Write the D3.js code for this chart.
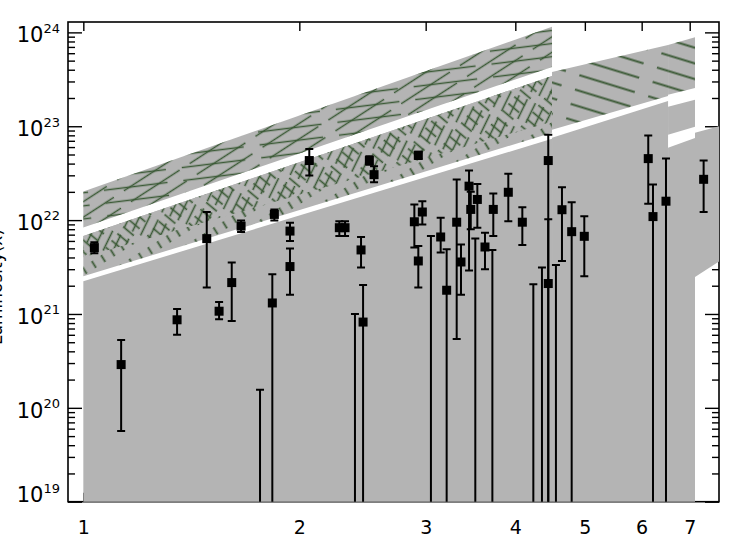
<!DOCTYPE html>
<html><head><meta charset="utf-8">
<script src="https://cdn.jsdelivr.net/npm/d3@7"></script>
<style>body{margin:0;background:#fff;}svg{display:block;}</style>
</head><body>
<svg id="chart" width="740" height="545"></svg>
<script>
// ---------- data ----------
const xTickValues = [1, 2, 3, 4, 5, 6, 7];
const yMajorTicks = [1e19, 1e20, 1e21, 1e22, 1e23, 1e24];
const yTitle = "Luminosity(x)";

// shaded bands: x positions, lower and upper edges
const bandAX = [1, 4.5],   bandALo = [8.36e21, 4.29e23], bandAHi = [2.02e22, 1.15e24];
const bandBX = [1, 4.5],   bandBLo = [2.52e21, 8.53e22], bandBHi = [6.76e21, 3.44e23];
const bandBMid = [4.02e21, 1.12e23];
const bandC1X = [4.5, 6.53], bandC1Lo = [9.2e22, 2.1e23], bandC1Hi = [3.79e23, 7.33e23];
const bandC2X = [6.53, 7.12], bandC2Lo = [2.16e23, 2.56e23], bandC2Hi = [7.33e23, 8.9e23];
const lowL1X = [1, 4.5],    lowL1Hi = [2.23e21, 7.36e22];
const lowL2X = [4.5, 6.53], lowL2Hi = [7.55e22, 1.86e23];
const lowL2bX = [6.53, 7.12], lowL2bLo = [8.13e22, 9.9e22], lowL2bHi = [1.61e23, 1.91e23];
const lowL3X = [6.53, 7.12], lowL3Hi = [5.9e22, 7.5e22];
const lowL4X = [7.12, 7.8],  lowL4Lo = [2.47e21, 3.9e21], lowL4Hi = [8.5e22, 1.03e23];
const floorValue = 1e18;

// measurements
const ptX  = [1.036, 1.129, 1.351, 1.486, 1.546, 1.61, 1.659, 1.763, 1.834, 1.846,
              1.941, 1.941, 2.065, 2.274, 2.316, 2.391, 2.438, 2.454, 2.504, 2.542,
              2.893, 2.93, 2.93, 2.968, 3.051, 3.148, 3.209, 3.314, 3.36, 3.448,
              3.467, 3.541, 3.518, 3.629, 3.716, 3.727, 3.911, 4.091, 4.238, 4.357,
              4.446, 4.446, 4.557, 4.646, 4.793, 4.991, 6.128, 6.222, 6.487, 7.32];
const ptY  = [5.09e21, 2.89e20, 8.67e20, 6.35e21, 1.07e21, 2.16e21, 8.63e21, 3e18, 1.31e21, 1.15e22,
              7.64e21, 3.2e21, 4.31e22, 8.3e21, 8.3e21, 3e18, 4.81e21, 8.2e20, 4.31e22, 3.05e22,
              9.6e21, 3.67e21, 4.9e22, 1.22e22, 3e18, 6.61e21, 1.79e21, 9.5e21, 3.58e21, 2.3e22,
              1.3e22, 1.66e22, 3e18, 5.17e21, 3e18, 1.3e22, 1.98e22, 9.5e21, 3e18, 3e18,
              2.11e21, 4.31e22, 3e18, 1.29e22, 7.53e21, 6.72e21, 4.52e22, 1.09e22, 1.59e22, 2.72e22];
const ptHi = [5.8e21, 5.28e20, 1.13e21, 1.22e22, 1.34e21, 3.53e21, 9.93e21, 1.56e20, 2.65e21, 1.3e22,
              9.37e21, 4.97e21, 5.73e22, 9.75e21, 9.75e21, 9.98e20, 6.61e21, 2.03e21, 4.78e22, 3.74e22,
              1.47e22, 5.3e21, 5.36e22, 1.59e22, 6.76e21, 1.06e22, 4.89e21, 2.7e22, 5.5e21, 3.37e22,
              2.0e22, 2.43e22, 6.35e21, 7.35e21, 4.81e21, 1.92e22, 3.11e22, 1.37e22, 2.07e21, 3.13e21,
              1.02e22, 8.13e22, 3.33e21, 2.24e22, 1.55e22, 1.1e22, 7.98e22, 2.39e22, 4.52e22, 4.31e22];
const ptLo = [4.43e21, 5.68e19, 6.01e20, 1.91e21, 8.8e20, 8.4e20, 7.46e21, 1e18, 1e18, 9.93e21,
              5.98e21, 1.6e21, 2.99e22, 6.76e21, 6.76e21, 1e18, 3.13e21, 1e18, 3.9e22, 2.53e22,
              5.1e21, 1.91e21, 4.47e22, 9e21, 1e18, 4.51e21, 1e18, 5.4e20, 1.6e21, 2.9e21,
              8.0e21, 8.3e21, 1e18, 3.0e21, 1e18, 6.76e21, 9.75e21, 5.43e21, 1e18, 1e18,
              1e18, 1e18, 1e18, 3.67e21, 1e18, 2.52e21, 1.49e22, 1e18, 1e18, 1.22e22];

// ---------- layout ----------
const L = 68, R = 719, T = 22, B = 501.7;
const GREY = "#b4b4b4", GREEN = "#3b5a36";
const FONT = "'DejaVu Sans', sans-serif";

const svg = d3.select("#chart");
const x = d3.scaleLog().domain([0.952, 7.69]).range([L, R]);
const y = d3.scaleLog().domain([1e19, 1.29e24]).range([B, T]);

const defs = svg.append("defs");
defs.append("clipPath").attr("id", "plotClip")
  .append("rect").attr("x", L).attr("y", T).attr("width", R - L).attr("height", B - T);

function hatch(id, angle, spacing, width, dash, sw) {
  const p = defs.append("pattern").attr("id", id)
    .attr("patternUnits", "userSpaceOnUse")
    .attr("width", width).attr("height", spacing)
    .attr("patternTransform", `rotate(${angle})`);
  p.append("line").attr("x1", 0).attr("x2", width)
    .attr("y1", spacing / 2).attr("y2", spacing / 2)
    .attr("stroke", GREEN).attr("stroke-width", sw)
    .attr("stroke-dasharray", dash || null);
}
hatch("hA1", -33, 13, 70, "58,12", 1.6);
hatch("hA2", -7, 13, 80, "64,16", 1.6);
hatch("hB1", -64, 9, 30, "22,8", 1.6);
hatch("hB2", 40, 9, 24, "14,10", 1.7);
hatch("hB3", 58, 11, 18, "8,10", 1.8);
hatch("hC", 17, 15, 72, "58,14", 1.8);

// ---------- axes (drawn first; fills cover them where the reference does) ----------
const axisG = svg.append("g");
const minorY = [];
for (let e = 19; e < 24; e++) for (let m = 2; m <= 9; m++) minorY.push(m * Math.pow(10, e));

function yAxisSide(side) {
  const maker = side === "left" ? d3.axisLeft : d3.axisRight;
  const pos = side === "left" ? L : R;
  const gMaj = axisG.append("g").attr("transform", `translate(${pos},0)`)
    .call(maker(y).tickValues(yMajorTicks).tickSizeInner(-14).tickSizeOuter(0).tickPadding(8).tickFormat(""));
  const gMin = axisG.append("g").attr("transform", `translate(${pos},0)`)
    .call(maker(y).tickValues(minorY).tickSizeInner(-7).tickSizeOuter(0).tickFormat(""));
  [gMaj, gMin].forEach(g => {
    g.select(".domain").remove();
    g.selectAll("line").attr("stroke", "#000").attr("stroke-width", 1.4);
  });
  return gMaj;
}
const leftMaj = yAxisSide("left");
yAxisSide("right");

// y labels with superscripts
leftMaj.selectAll(".tick").each(function (d) {
  const e = Math.round(Math.log10(d));
  const t = d3.select(this).select("text")
    .attr("x", -8).attr("dy", null)
    .attr("y", e === 19 ? 0 : 9.4)
    .attr("text-anchor", "end").attr("fill", "#000")
    .style("font-family", FONT).style("font-size", "21px");
  t.append("tspan").text("10");
  t.append("tspan").attr("dy", -9.6).style("font-size", "13px").text(e);
});

// x axes
function xAxisSide(side) {
  const maker = side === "bottom" ? d3.axisBottom : d3.axisTop;
  const pos = side === "bottom" ? B : T;
  const g = axisG.append("g").attr("transform", `translate(0,${pos})`)
    .call(maker(x).tickValues(xTickValues).tickSizeInner(-9).tickSizeOuter(0)
      .tickPadding(side === "bottom" ? 20 : 0).tickFormat(side === "bottom" ? d3.format("d") : ""));
  g.select(".domain").remove();
  g.selectAll("line").attr("stroke", "#000").attr("stroke-width", 1.4);
  g.selectAll("text").attr("fill", "#000").attr("dy", null).attr("y", 32)
    .style("font-family", FONT).style("font-size", "19px");
}
xAxisSide("bottom");
xAxisSide("top");

// frame
axisG.append("rect").attr("x", L).attr("y", T).attr("width", R - L).attr("height", B - T)
  .attr("fill", "none").attr("stroke", "#000").attr("stroke-width", 1.6);

// y title (mostly cut off at the left edge, as in the reference)
svg.append("text")
  .attr("transform", "translate(1.5,287) rotate(-90)")
  .attr("text-anchor", "middle")
  .style("font-family", FONT).style("font-size", "17px").attr("fill", "#000")
  .text(yTitle);

// ---------- shaded regions ----------
const plot = svg.append("g").attr("clip-path", "url(#plotClip)");
const area = d3.area().x(d => x(d.x)).y0(d => y(d.lo)).y1(d => y(d.hi));
function band(xs, lo, hi) { return xs.map((v, i) => ({ x: v, lo: Array.isArray(lo) ? lo[i] : lo, hi: hi[i] })); }
function fillBand(data, fill) {
  plot.append("path").datum(data).attr("d", area).attr("fill", fill).attr("stroke", "none");
}

// lower grey regions
fillBand(band(lowL1X, floorValue, lowL1Hi), GREY);
fillBand(band(lowL2X, floorValue, lowL2Hi), GREY);
fillBand(band(lowL3X, floorValue, lowL3Hi), GREY);
fillBand(band(lowL2bX, lowL2bLo, lowL2bHi), GREY);
fillBand(band(lowL4X, lowL4Lo, lowL4Hi), GREY);

// hatched bands
const dA = band(bandAX, bandALo, bandAHi);
fillBand(dA, GREY); fillBand(dA, "url(#hA1)"); fillBand(dA, "url(#hA2)");
const dB = band(bandBX, bandBLo, bandBHi);
fillBand(dB, GREY); fillBand(dB, "url(#hB3)");
const dBu = band(bandBX, bandBMid, bandBHi);
fillBand(dBu, GREY); fillBand(dBu, "url(#hB1)"); fillBand(dBu, "url(#hB2)");
const dC1 = band(bandC1X, bandC1Lo, bandC1Hi);
fillBand(dC1, GREY); fillBand(dC1, "url(#hC)");
const dC2 = band(bandC2X, bandC2Lo, bandC2Hi);
fillBand(dC2, GREY); fillBand(dC2, "url(#hC)");

// ---------- measurements ----------
const pts = ptX.map((v, i) => ({ x: v, y: ptY[i], hi: ptHi[i], lo: ptLo[i] }));
const pg = plot.append("g");
const cap = 4;
pg.selectAll("line.eb").data(pts).join("line").attr("class", "eb")
  .attr("x1", d => x(d.x)).attr("x2", d => x(d.x))
  .attr("y1", d => y(d.hi)).attr("y2", d => y(d.lo))
  .attr("stroke", "#000").attr("stroke-width", 2);
pg.selectAll("line.capHi").data(pts).join("line").attr("class", "capHi")
  .attr("x1", d => x(d.x) - cap).attr("x2", d => x(d.x) + cap)
  .attr("y1", d => y(d.hi)).attr("y2", d => y(d.hi))
  .attr("stroke", "#000").attr("stroke-width", 2);
pg.selectAll("line.capLo").data(pts).join("line").attr("class", "capLo")
  .attr("x1", d => x(d.x) - cap).attr("x2", d => x(d.x) + cap)
  .attr("y1", d => y(d.lo)).attr("y2", d => y(d.lo))
  .attr("stroke", "#000").attr("stroke-width", 2);
const s = 9;
pg.selectAll("rect.pt").data(pts).join("rect").attr("class", "pt")
  .attr("x", d => x(d.x) - s / 2).attr("y", d => y(d.y) - s / 2)
  .attr("width", s).attr("height", s).attr("fill", "#000");
</script>
</body></html>
